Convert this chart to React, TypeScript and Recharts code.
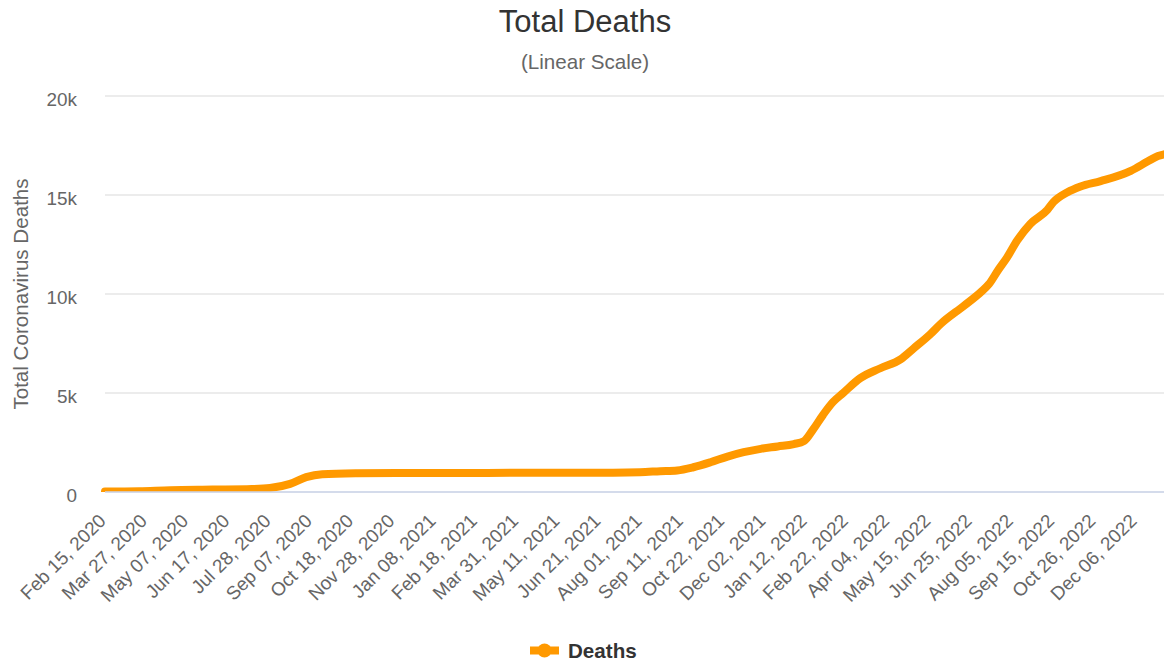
import React from 'react';
import { LineChart, Line, XAxis, YAxis, CartesianGrid } from 'recharts';

const FONT = "'Liberation Sans', Arial, Helvetica, sans-serif";
const START = '2020-02-15';

// cumulative deaths at these dates
const dates = [
  '2020-02-15', '2020-03-20', '2020-04-20', '2020-06-01', '2020-07-10', '2020-07-28',
  '2020-08-17', '2020-09-02', '2020-09-18', '2020-10-23', '2020-12-01', '2021-03-01',
  '2021-07-04', '2021-07-31', '2021-08-20', '2021-09-06', '2021-09-22', '2021-10-09',
  '2021-10-26', '2021-11-11', '2021-11-28', '2021-12-15', '2021-12-31', '2022-01-10',
  '2022-01-19', '2022-01-29', '2022-02-08', '2022-02-18', '2022-03-07', '2022-03-27',
  '2022-04-16', '2022-04-29', '2022-05-16', '2022-05-26', '2022-06-18', '2022-07-05',
  '2022-07-13', '2022-07-22', '2022-07-31', '2022-08-10', '2022-08-23', '2022-09-09',
  '2022-09-15', '2022-09-29', '2022-10-12', '2022-11-01', '2022-12-01', '2022-12-18',
  '2022-12-28', '2023-01-03',
];
const deaths = [
  20, 40, 90, 120, 150, 200,
  410, 750, 900, 950, 965, 965,
  975, 1000, 1050, 1090, 1250, 1500,
  1790, 2010, 2180, 2300, 2420, 2570,
  3150, 3900, 4550, 5000, 5750, 6250,
  6700, 7250, 7990, 8490, 9400, 10100,
  10500, 11200, 11850, 12700, 13540, 14250,
  14640, 15140, 15430, 15700, 16220, 16700,
  16970, 17050,
];

const tickDates = [
  '2020-02-15', '2020-03-27', '2020-05-07', '2020-06-17', '2020-07-28', '2020-09-07',
  '2020-10-18', '2020-11-28', '2021-01-08', '2021-02-18', '2021-03-31', '2021-05-11',
  '2021-06-21', '2021-08-01', '2021-09-11', '2021-10-22', '2021-12-02', '2022-01-12',
  '2022-02-22', '2022-04-04', '2022-05-15', '2022-06-25', '2022-08-05', '2022-09-15',
  '2022-10-26', '2022-12-06',
];
const yTicks = [0, 5000, 10000, 15000, 20000];

const MONTHS = ['Jan', 'Feb', 'Mar', 'Apr', 'May', 'Jun', 'Jul', 'Aug', 'Sep', 'Oct', 'Nov', 'Dec'];
const DAY_MS = 86400000;
const dayOf = (iso: string) => Math.round((Date.parse(iso) - Date.parse(START)) / DAY_MS);
const fmtDay = (d: number) => {
  const dt = new Date(Date.parse(START) + d * DAY_MS);
  return `${MONTHS[dt.getUTCMonth()]} ${String(dt.getUTCDate()).padStart(2, '0')}, ${dt.getUTCFullYear()}`;
};

const data = dates.map((d, i) => ({ day: dayOf(d), deaths: deaths[i] }));
const xTicks = tickDates.map(dayOf);

const XTick = (props: any) => {
  const { x, y, payload } = props;
  const ax = x + 2;
  const ay = y + 30;
  return (
    <text x={ax} y={ay} transform={`rotate(-45 ${ax} ${ay})`} textAnchor="end"
      fill="#666" fontSize={18.9} fontFamily={FONT}>
      {fmtDay(payload.value)}
    </text>
  );
};

const YTick = (props: any) => {
  const { x, y, payload } = props;
  const v = payload.value;
  return (
    <text x={x} y={y + 3.5} dy="0.355em" textAnchor="end" fill="#666" fontSize={18.9} fontFamily={FONT}>
      {v === 0 ? '0' : `${v / 1000}k`}
    </text>
  );
};

export default function App() {
  return (
    <div style={{ position: 'absolute', left: 0, top: 0, width: 1164, height: 661, background: '#fff' }}>
      <LineChart width={1164} height={661} data={data} margin={{ top: 96, right: 0, bottom: 0, left: 0 }}>
        <CartesianGrid vertical={false} stroke="#e6e6e6" strokeWidth={1.7} />
        <XAxis
          dataKey="day"
          type="number"
          domain={[0, 'dataMax']}
          ticks={xTicks}
          interval={0}
          height={169}
          tick={XTick}
          tickLine={false}
          tickSize={0}
          tickMargin={0}
          axisLine={{ stroke: '#ccd6eb', strokeWidth: 1.7 }}
        />
        <YAxis
          domain={[0, 20000]}
          ticks={yTicks}
          allowDataOverflow
          width={105}
          axisLine={false}
          tickLine={false}
          tickSize={0}
          tickMargin={28}
          tick={YTick}
        />
        <Line
          type="monotone"
          dataKey="deaths"
          name="Deaths"
          stroke="#FF9900"
          strokeWidth={8}
          strokeLinecap="round"
          strokeLinejoin="round"
          dot={false}
          activeDot={false}
          isAnimationActive={false}
        />
      </LineChart>
      <svg width={1164} height={661} style={{ position: 'absolute', left: 0, top: 0, pointerEvents: 'none' }}>
        <text x={585} y={32} textAnchor="middle" fill="#333" fontSize={31} fontFamily={FONT}>Total Deaths</text>
        <text x={585} y={69} textAnchor="middle" fill="#666" fontSize={20.6} fontFamily={FONT}>(Linear Scale)</text>
        <text x={28} y={294} transform="rotate(-90 28 294)" textAnchor="middle" fill="#666" fontSize={20.6} fontFamily={FONT}>
          Total Coronavirus Deaths
        </text>
        <line x1={530} y1={650.5} x2={559} y2={650.5} stroke="#FF9900" strokeWidth={8} />
        <circle cx={544.5} cy={650.5} r={7} fill="#FF9900" />
        <text x={568} y={657.5} fill="#333" fontSize={20.6} fontWeight="bold" fontFamily={FONT}>Deaths</text>
      </svg>
    </div>
  );
}
